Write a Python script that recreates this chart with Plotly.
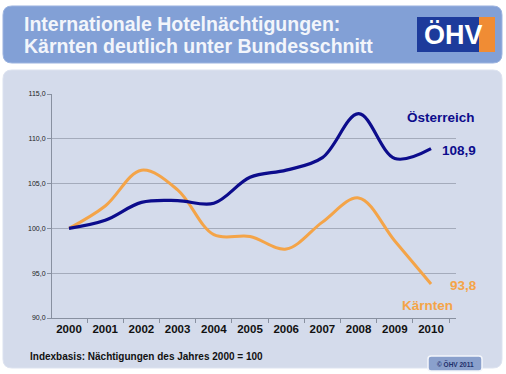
import plotly.graph_objects as go

years = [2000, 2001, 2002, 2003, 2004, 2005, 2006, 2007, 2008, 2009, 2010]
oesterreich = [100.0, 100.9, 102.9, 103.1, 102.8, 105.7, 106.5, 107.9, 112.8, 107.8, 108.9]
kaernten = [100.0, 102.5, 106.5, 104.3, 99.3, 99.1, 97.7, 100.7, 103.4, 98.6, 93.8]
y_ticks = [90, 95, 100, 105, 110, 115]
y_tick_labels = ["90,0", "95,0", "100,0", "105,0", "110,0", "115,0"]

W, H = 506, 374
L, R, T, B = 52, 456, 94, 318
FONT = "Arial, Liberation Sans, sans-serif"
NAVY = "#0c0c8c"
ORANGE = "#f4a448"


def px(x):
    return (x - L) / (R - L)


def py(y):
    return (B - y) / (B - T)


def rrect(x0, y0, x1, y1, r):
    pts = [
        ("M", (x0 + r, y0)), ("L", (x1 - r, y0)), ("Q", (x1, y0), (x1, y0 + r)),
        ("L", (x1, y1 - r)), ("Q", (x1, y1), (x1 - r, y1)),
        ("L", (x0 + r, y1)), ("Q", (x0, y1), (x0, y1 - r)),
        ("L", (x0, y0 + r)), ("Q", (x0, y0), (x0 + r, y0)),
    ]
    s = ""
    for p in pts:
        cmd = p[0]
        coords = " ".join(f"{px(a):.5f},{py(b):.5f}" for a, b in p[1:])
        s += f"{cmd} {coords} "
    return s + "Z"


def ann(x, y, text, size, color, xanchor="left", bold=True):
    return dict(x=px(x), y=py(y), xref="paper", yref="paper",
                text=f"<b>{text}</b>" if bold else text, showarrow=False,
                xanchor=xanchor, yanchor="middle",
                font=dict(family=FONT, size=size, color=color))


fig = go.Figure()
fig.add_trace(go.Scatter(x=years, y=kaernten, mode="lines", name="Kärnten",
                         line=dict(color=ORANGE, width=3, shape="spline", smoothing=1.0)))
fig.add_trace(go.Scatter(x=years, y=oesterreich, mode="lines", name="Österreich",
                         line=dict(color=NAVY, width=3.2, shape="spline", smoothing=1.0)))

shapes = [
    dict(type="path", path=rrect(3, 6, 502, 63, 9), fillcolor="#82a0d6",
         line=dict(color="#9cb4e0", width=1), xref="paper", yref="paper", layer="below"),
    dict(type="path", path=rrect(3, 70, 502, 368, 9), fillcolor="#d4dbeb",
         line=dict(color="#dde3f0", width=1), xref="paper", yref="paper", layer="below"),
    # logo
    dict(type="rect", x0=px(417), x1=px(479), y0=py(17), y1=py(52), fillcolor="#1d3b9b",
         line=dict(width=0), xref="paper", yref="paper", layer="below"),
    dict(type="rect", x0=px(479), x1=px(495), y0=py(17), y1=py(52), fillcolor="#f08c34",
         line=dict(width=0), xref="paper", yref="paper", layer="below"),
    # copyright box
    dict(type="path", path=rrect(428, 356, 482, 371, 3), fillcolor="#8aa0cc",
         line=dict(color="#f4f6fb", width=1.5), xref="paper", yref="paper", layer="below"),
]

annotations = [
    ann(22, 24, "Internationale Hotelnächtigungen:", 19.5, "#f2f5fb"),
    ann(22, 46, "Kärnten deutlich unter Bundesschnitt", 19.5, "#f2f5fb"),
    ann(453, 35, "ÖHV", 27, "white", xanchor="center"),
    ann(477, 118, "Österreich", 13.5, NAVY, xanchor="right"),
    ann(440, 150, "108,9", 13.5, NAVY),
    ann(448, 285, "93,8", 13.5, ORANGE),
    ann(455, 305, "Kärnten", 13.5, ORANGE, xanchor="right"),
    ann(28, 356, "Indexbasis: Nächtigungen des Jahres 2000 = 100", 10, "#111111"),
    ann(455, 363.5, "© ÖHV 2011", 6.5, "#1d2f6a", xanchor="center"),
]

fig.update_layout(
    width=W, height=H,
    margin=dict(l=L, r=W - R, t=T, b=H - B, pad=0),
    paper_bgcolor="white",
    plot_bgcolor="rgba(0,0,0,0)",
    showlegend=False,
    shapes=shapes,
    annotations=annotations,
    xaxis=dict(range=[1999.53, 2010.69], tickvals=years, ticktext=[f"<b>{y}</b>" for y in years],
               showgrid=False, zeroline=False, showline=True, linecolor="#8890a0", linewidth=1,
               ticks="", tickfont=dict(family=FONT, size=11.5, color="#111111"),
               minor=dict(tickvals=[y + 0.5 for y in [1999] + years], ticks="outside", ticklen=4,
                          tickcolor="#8890a0"),
               fixedrange=True),
    yaxis=dict(range=[90, 115], tickvals=y_ticks, ticktext=y_tick_labels,
               showgrid=True, gridcolor="#a4abbb", gridwidth=1, zeroline=False,
               showline=True, linecolor="#8890a0", linewidth=1, ticks="outside", ticklen=4,
               tickcolor="#8890a0", tickfont=dict(family=FONT, size=7, color="#222222"),
               fixedrange=True),
)

fig.write_html("out.html", config={"displayModeBar": False},
               post_script="document.body.style.margin='0px';")
